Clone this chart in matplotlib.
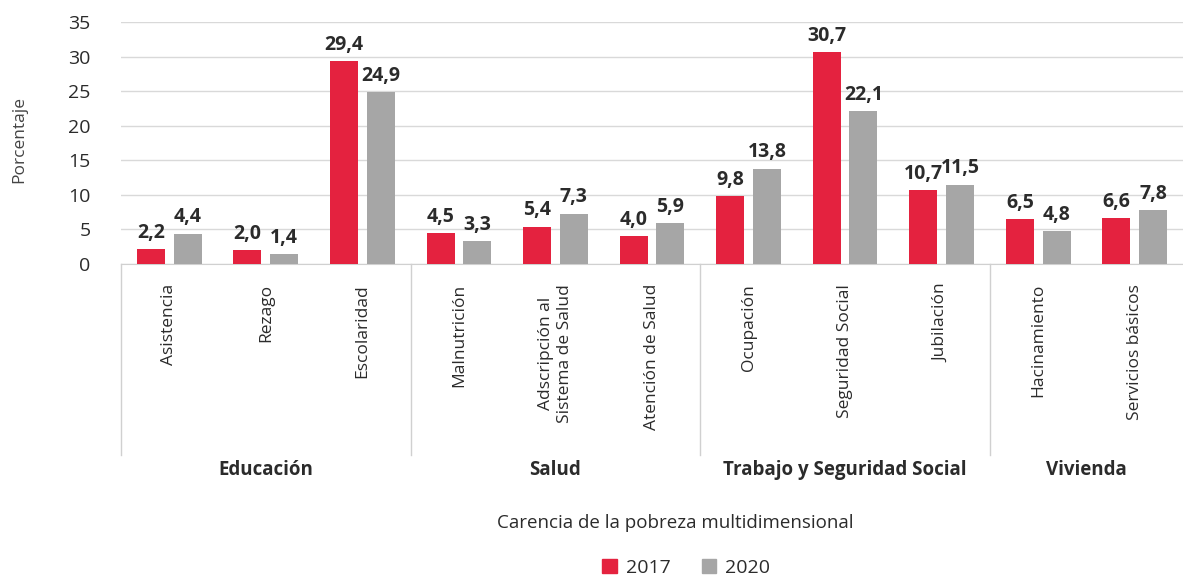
import matplotlib
matplotlib.use("Agg")
import matplotlib.pyplot as plt
import matplotlib.transforms as mtransforms
from matplotlib.patches import Patch
import numpy as np

plt.rcParams['font.family'] = ['Open Sans', 'DejaVu Sans']

categories = ["Asistencia", "Rezago", "Escolaridad", "Malnutrición",
              "Adscripción al\nSistema de Salud", "Atención de Salud",
              "Ocupación", "Seguridad Social", "Jubilación",
              "Hacinamiento", "Servicios básicos"]
v2017 = [2.2, 2.0, 29.4, 4.5, 5.4, 4.0, 9.8, 30.7, 10.7, 6.5, 6.6]
v2020 = [4.4, 1.4, 24.9, 3.3, 7.3, 5.9, 13.8, 22.1, 11.5, 4.8, 7.8]
groups = ["Educación", "Salud", "Trabajo y Seguridad Social", "Vivienda"]
group_sizes = [3, 3, 3, 2]

red = "#E4223F"
gray = "#A6A6A6"
txt = "#2b2b2b"

fig = plt.figure(figsize=(11.83, 5.8), dpi=100)
ax = fig.add_axes([0.1023, 0.5448, 0.8977, 0.4172])

x = np.arange(len(categories))
w = 0.29
off = 0.19
ax.bar(x - off, v2017, w, color=red, zorder=3)
ax.bar(x + off, v2020, w, color=gray, zorder=3)

def fmt(v):
    return f"{v:.1f}".replace(".", ",")

for xi, a, b in zip(x, v2017, v2020):
    ax.text(xi - off, a + 0.9, fmt(a), ha="center", va="bottom",
            fontsize=14, fontweight="bold", color=txt)
    ax.text(xi + off, b + 0.9, fmt(b), ha="center", va="bottom",
            fontsize=14, fontweight="bold", color=txt)

ax.set_xlim(-0.5, len(categories) - 0.5)
ax.set_ylim(0, 35)
ax.set_yticks(range(0, 36, 5))
ax.tick_params(axis="y", length=0, labelsize=14, labelcolor=txt, pad=22)
ax.set_xticks([])
ax.grid(axis="y", color="#d9d9d9", linewidth=1, zorder=0)
for s in ["top", "right", "left"]:
    ax.spines[s].set_visible(False)
ax.spines["bottom"].set_color("#d0d0d0")

trans = mtransforms.blended_transform_factory(ax.transData, ax.transAxes)

# category labels, rotated
for xi, c in zip(x, categories):
    ax.text(xi, -0.082, c, rotation=90, ha="center", va="top",
            fontsize=12.5, color=txt, transform=trans, linespacing=1.25)

# group separators and group labels
edges = np.concatenate([[0], np.cumsum(group_sizes)]) - 0.5
for e in edges[:-1]:
    ax.plot([e, e], [0, -0.79], color="#d0d0d0", linewidth=1,
            transform=trans, clip_on=False)
for g, a, b in zip(groups, edges[:-1], edges[1:]):
    ax.text((a + b) / 2, -0.85, g, ha="center", va="center",
            fontsize=13.5, fontweight="bold", color=txt, transform=trans)

fig.text(0.571, 0.099, "Carencia de la pobreza multidimensional",
         ha="center", va="center", fontsize=13.5, color=txt)
fig.text(0.016, 0.759, "Porcentaje", rotation=90, ha="center", va="center",
         fontsize=12.5, color="#444444")

handles = [Patch(color=red, label="2017"), Patch(color=gray, label="2020")]
fig.legend(handles=handles, loc="center", bbox_to_anchor=(0.58, 0.021),
           ncol=2, frameon=False, fontsize=14, handlelength=0.75,
           handleheight=0.75, handletextpad=0.45, columnspacing=1.6,
           labelcolor=txt)

fig.savefig("out.png", dpi=100)
